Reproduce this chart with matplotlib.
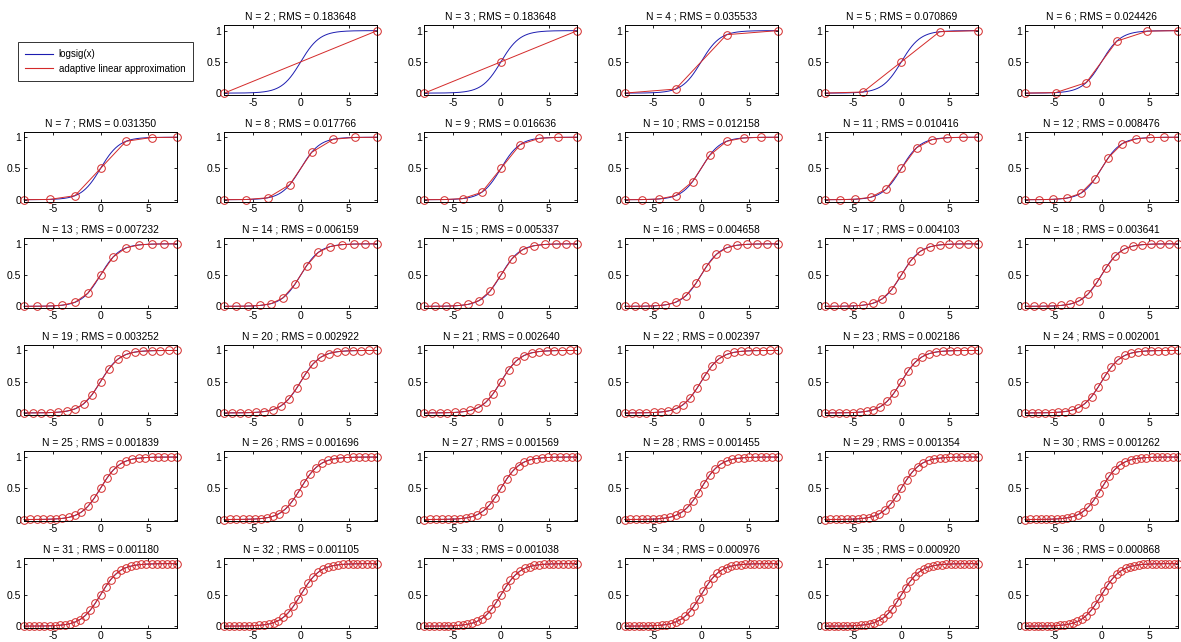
import numpy as np
import matplotlib
matplotlib.use("Agg")
import matplotlib.pyplot as plt
from matplotlib.lines import Line2D

plt.rcParams['font.family'] = ['Liberation Sans', 'DejaVu Sans']
plt.rcParams['axes.unicode_minus'] = False

# number of knots per panel and the RMS printed in each title
n_knots = list(range(2, 37))
rms = [0.183648, 0.183648, 0.035533, 0.070869, 0.024426, 0.031350, 0.017766,
       0.016636, 0.012158, 0.010416, 0.008476, 0.007232, 0.006159, 0.005337,
       0.004658, 0.004103, 0.003641, 0.003252, 0.002922, 0.002640, 0.002397,
       0.002186, 0.002001, 0.001839, 0.001696, 0.001569, 0.001455, 0.001354,
       0.001262, 0.001180, 0.001105, 0.001038, 0.000976, 0.000920, 0.000868]
x_range = (-8, 8)
x_ticks = [-5, 0, 5]
y_ticks = [0, 0.5, 1]
y_tick_labels = ['0', '0.5', '1']

BLUE = '#1c1cb0'
RED = '#d42a2a'


def logsig(x):
    return 1.0 / (1.0 + np.exp(-x))


W, H = 1181, 642
fig = plt.figure(figsize=(W / 100, H / 100), dpi=100)

ax_w, ax_h = 153, 70
x_curve = np.linspace(x_range[0], x_range[1], 400)

for k in range(36):
    row, col = divmod(k, 6)
    if k == 0:
        continue  # legend goes in the first cell
    left = 24 + col * 200.2
    top = 25 + row * 106.6
    ax = fig.add_axes([left / W, 1 - (top + ax_h) / H, ax_w / W, ax_h / H])
    n = n_knots[k - 1]
    xk = np.linspace(x_range[0], x_range[1], n)
    ax.plot(x_curve, logsig(x_curve), color=BLUE, lw=0.7)
    ax.plot(xk, logsig(xk), color=RED, lw=0.7, marker='o', ms=5.5,
            mfc='none', mec=RED, mew=0.7, clip_on=False)
    ax.set_xlim(*x_range)
    ax.set_ylim(-0.03, 1.09)
    ax.set_xticks(x_ticks)
    ax.set_yticks(y_ticks)
    ax.set_yticklabels(y_tick_labels)
    ax.tick_params(direction='in', top=True, right=True, length=2.5,
                   width=0.6, labelsize=7.5, pad=2)
    for s in ax.spines.values():
        s.set_linewidth(0.7)
    ax.set_title('N = %d ; RMS = %.6f' % (n, rms[k - 1]), fontsize=7.4, pad=4)

handles = [Line2D([0], [0], color=BLUE, lw=0.8),
           Line2D([0], [0], color=RED, lw=0.8)]
leg = fig.legend(handles, ['logsig(x)', 'adaptive linear approximation'],
                 loc='upper left', bbox_to_anchor=(18 / W, 1 - 42 / H),
                 fontsize=7, frameon=True, fancybox=False, borderaxespad=0,
                 handlelength=2.9, handletextpad=0.55, borderpad=0.75,
                 labelspacing=0.45)
leg.get_frame().set_edgecolor('black')
leg.get_frame().set_linewidth(0.7)

fig.savefig('out.png', dpi=100)
